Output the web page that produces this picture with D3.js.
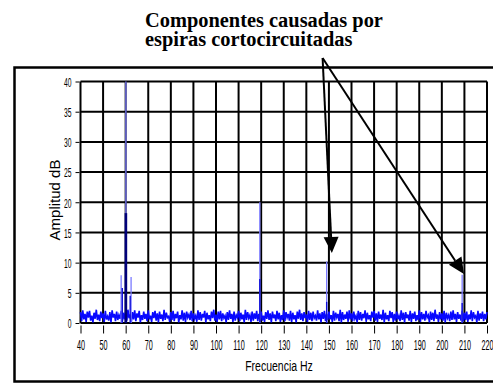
<!DOCTYPE html>
<html>
<head>
<meta charset="utf-8">
<script src="https://cdn.jsdelivr.net/npm/d3@7"></script>
<style>
  body { margin: 0; background: #fff; }
  svg { display: block; }
</style>
</head>
<body>
<svg id="chart" width="493" height="383"></svg>
<script>
// spectrum noise floor, dB, sampled every 0.5 Hz from 40 Hz
const F0 = 40, DF = 0.5
const noise = [
  1.8,0.3,2.1,0.6,1.5,0.2,1.9,0.9,2.0,0.4,1.2,0.1,1.7,0.7,2.2,0.5,1.4,0.3,1.9,0.8,
  1.6,0.2,2.0,0.6,1.1,0.4,1.8,0.1,2.1,0.9,1.5,0.3,1.9,0.5,1.3,0.7,2.0,0.2,1.7,0.6,
  1.9,0.4,2.2,0.8,1.4,0.2,1.8,0.6,2.1,0.3,1.6,0.9,2.0,0.1,1.3,0.5,1.9,0.7,1.5,0.3,
  2.1,0.6,1.2,0.2,1.8,0.8,2.0,0.4,1.6,0.1,1.9,0.7,1.4,0.3,2.2,0.5,1.7,0.9,1.1,0.2,
  1.8,0.5,2.0,0.3,1.5,0.8,1.9,0.1,1.3,0.6,2.1,0.4,1.7,0.2,1.9,0.9,1.4,0.5,2.0,0.3,
  1.6,0.7,1.2,0.2,2.1,0.5,1.8,0.4,1.5,0.9,2.0,0.1,1.7,0.6,1.3,0.3,1.9,0.8,2.2,0.4,
  1.4,0.2,1.9,0.6,2.0,0.3,1.6,0.8,1.2,0.1,1.8,0.5,2.1,0.7,1.5,0.2,1.9,0.4,1.3,0.9,
  2.0,0.3,1.7,0.6,1.4,0.1,2.2,0.5,1.8,0.8,1.3,0.2,1.9,0.4,1.6,0.7,2.0,0.3,1.5,0.6,
  1.9,0.4,1.2,0.2,1.8,0.7,2.1,0.5,1.6,0.1,1.9,0.8,1.4,0.3,2.0,0.6,1.7,0.2,1.3,0.5,
  2.1,0.3,1.8,0.9,1.5,0.4,2.0,0.2,1.7,0.6,1.3,0.1,1.9,0.7,2.2,0.5,1.6,0.3,1.8,0.8,
  1.4,0.2,2.0,0.5,1.7,0.3,1.9,0.8,1.2,0.4,2.1,0.6,1.6,0.1,1.8,0.7,2.0,0.3,1.5,0.5,
  1.9,0.6,1.3,0.2,2.0,0.4,1.7,0.9,1.5,0.3,2.2,0.1,1.8,0.5,1.4,0.7,1.9,0.2,2.1,0.6,
  1.6,0.3,1.9,0.7,1.2,0.1,2.0,0.5,1.8,0.4,1.5,0.8,2.1,0.2,1.7,0.6,1.3,0.3,1.9,0.9,
  2.0,0.4,1.6,0.2,1.9,0.7,1.4,0.5,2.2,0.1,1.7,0.6,1.3,0.3,2.0,0.8,1.8,0.2,1.5,0.4,
  1.9,0.6,1.2,0.3,2.1,0.5,1.7,0.1,1.8,0.8,1.4,0.4,2.0,0.2,1.6,0.7,1.9,0.3,1.3,0.5,
  2.1,0.2,1.8,0.6,1.5,0.4,2.0,0.9,1.3,0.1,1.9,0.5,1.7,0.3,2.2,0.7,1.4,0.2,1.8,0.6,
  1.6,0.4,2.0,0.1,1.7,0.8,1.3,0.3,1.9,0.5,2.1,0.6,1.5,0.2,1.8,0.7,1.4,0.4,2.0,0.3,
  1.7,0.5,1.9,0.2,1.4,0.6,2.1,0.3,1.8,0.9,1.2,0.1,2.0,0.4,1.6,0.7,1.9,0.3,1.5,0.6,
  1.8
]

// spectral peaks (light thin part) and their darker cores
const peakFreq  = [58.0, 60.1, 62.4, 119.4, 149.0, 209.0]
const peakLevel = [7.9, 40, 7.6, 20, 10.2, 8.0]
const coreFreq  = [58.5, 60.1, 62.0, 119.4, 149.0, 209.0]
const coreLevel = [5.8, 18.2, 4.5, 7.3, 3.5, 3.3]

const xTicks = [40,50,60,70,80,90,100,110,120,130,140,150,160,170,180,190,200,210,220]
const yTicks = [0,5,10,15,20,25,30,35,40]

// annotation: arrows from the note down to the shorted-turn components
const noteLines = ["Componentes causadas por", "espiras cortocircuitadas"]
const arrowFrom = [147.2, 43.9]
const arrowTo   = [[151.3, 11.6], [209.8, 8.1]]

const svg = d3.select("#chart")

const x = d3.scaleLinear().domain([40, 220]).range([80.5, 487])
const y = d3.scaleLinear().domain([0, 40]).range([323, 81.5])

//outer frame
svg.append("rect")
  .attr("x", 14.5).attr("y", 67.5)
  .attr("width", 490).attr("height", 314)
  .attr("fill", "#fff").attr("stroke", "#000").attr("stroke-width", 2.5)

//grid
let grid = svg.append("g").attr("stroke", "#000").attr("stroke-width", 2)
grid.selectAll(".gx").data(xTicks).enter().append("line")
  .attr("x1", d => x(d)).attr("x2", d => x(d))
  .attr("y1", y(0)).attr("y2", y(40))
grid.selectAll(".gy").data(yTicks).enter().append("line")
  .attr("x1", x(40)).attr("x2", x(220))
  .attr("y1", d => y(d)).attr("y2", d => y(d))

//noise floor
let line = d3.line().x((d, i) => x(F0 + i * DF)).y(d => y(d))
svg.append("path").datum(noise)
  .attr("d", line)
  .attr("fill", "none").attr("stroke", "#0808ff").attr("stroke-width", 1.6)

//peaks
svg.selectAll(".peak").data(peakFreq).enter().append("line")
  .attr("x1", d => x(d)).attr("x2", d => x(d))
  .attr("y1", y(0)).attr("y2", (d, i) => y(peakLevel[i]))
  .attr("stroke", "#7a7aff").attr("stroke-width", 1.3)
svg.selectAll(".core").data(coreFreq).enter().append("line")
  .attr("x1", d => x(d)).attr("x2", d => x(d))
  .attr("y1", y(0)).attr("y2", (d, i) => y(coreLevel[i]))
  .attr("stroke", (d, i) => coreLevel[i] > 15 ? "#00007a" : "#1010d8")
  .attr("stroke-width", (d, i) => coreLevel[i] > 15 ? 2.6 : 1.4)

//axes
const font = "'Liberation Sans', Arial, sans-serif"
let yAxis = svg.append("g").attr("transform", `translate(${x(40)},0)`)
  .call(d3.axisLeft(y).tickValues(yTicks).tickSize(5).tickPadding(4))
yAxis.select(".domain").remove()
yAxis.selectAll(".tick line").attr("stroke", "#000").attr("x2", -5).attr("x1", -1)
yAxis.selectAll(".tick text")
  .attr("font-family", font).attr("font-size", 13.5).attr("fill", "#000")
  .attr("x", -9 / 0.5).attr("dy", "0.36em")
  .attr("transform", "scale(0.5,1)")

let xAxis = svg.append("g").attr("transform", `translate(0,${y(0) + 2.5})`)
  .call(d3.axisBottom(x).tickValues(xTicks).tickSize(8))
xAxis.select(".domain").remove()
xAxis.selectAll(".tick line").attr("stroke", "#000")
xAxis.selectAll(".tick text")
  .attr("font-family", font).attr("font-size", 14.5).attr("fill", "#000")
  .attr("y", 25).attr("dy", 0)
  .attr("transform", "scale(0.5,1)")

//axis titles
svg.append("text")
  .attr("transform", `translate(279,370.5) scale(0.7,1)`)
  .attr("text-anchor", "middle")
  .attr("font-family", font).attr("font-size", 15)
  .text("Frecuencia Hz")
svg.append("text")
  .attr("transform", `translate(60,200) rotate(-90)`)
  .attr("text-anchor", "middle")
  .attr("font-family", font).attr("font-size", 15)
  .text("Amplitud dB")

//note
svg.selectAll(".note").data(noteLines).enter().append("text")
  .attr("x", 145).attr("y", (d, i) => 27 + i * 19)
  .attr("font-family", "'Liberation Serif', 'Times New Roman', serif")
  .attr("font-weight", "bold").attr("font-size", 20.4)
  .text(d => d)

//arrows
let p0 = [x(arrowFrom[0]), y(arrowFrom[1])]
arrowTo.forEach(t => {
  let p1 = [x(t[0]), y(t[1])]
  let a = Math.atan2(p1[1] - p0[1], p1[0] - p0[0])
  let len = 16, hw = 7.5
  let bx = p1[0] - len * Math.cos(a), by = p1[1] - len * Math.sin(a)
  svg.append("line")
    .attr("x1", p0[0]).attr("y1", p0[1]).attr("x2", bx).attr("y2", by)
    .attr("stroke", "#000").attr("stroke-width", 2)
  let pts = [p1,
    [bx + hw * Math.sin(a), by - hw * Math.cos(a)],
    [bx - hw * Math.sin(a), by + hw * Math.cos(a)]]
  svg.append("polygon").attr("points", pts.map(p => p.join(",")).join(" "))
    .attr("fill", "#000")
})
</script>
</body>
</html>
